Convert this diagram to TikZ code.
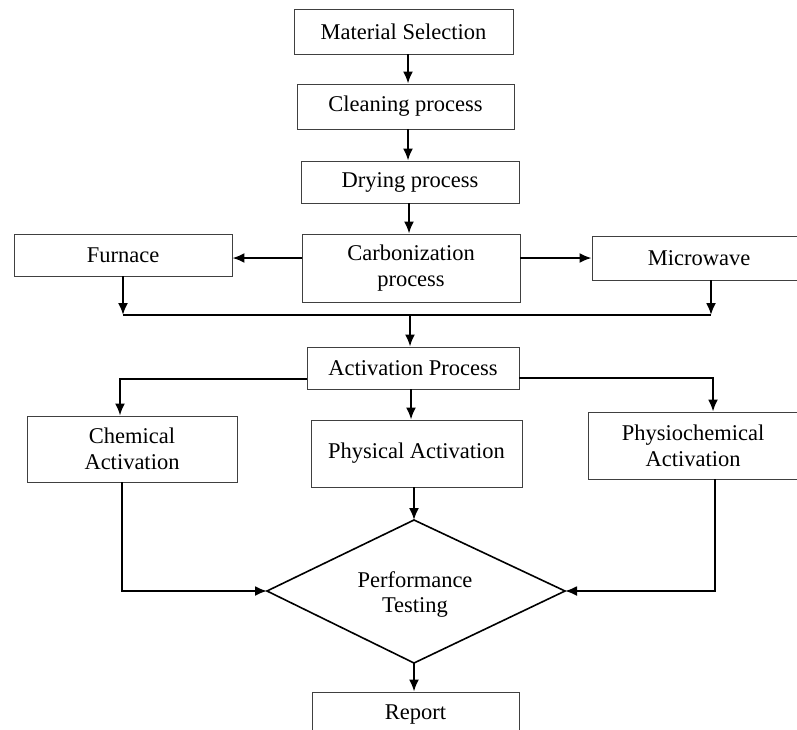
\documentclass[tikz,border=0pt]{standalone}
\usepackage{fontspec}
\setmainfont{Liberation Serif}
\usetikzlibrary{arrows.meta}
\begin{document}
\begin{tikzpicture}[x=1pt,y=-1pt,
  box/.style={draw=black!75, line width=0.9pt, rectangle, inner sep=0pt, align=center,
    font=\fontsize{22.5}{26}\selectfont},
  arr/.style={line width=2pt, -{Latex[length=12pt,width=10pt]}},
  ln/.style={line width=2pt}]
\clip (0,0) rectangle (797,729);
\fill[white] (0,0) rectangle (797,729);
% boxes
\node[box, minimum width=219pt, minimum height=45pt] (ms) at (403.5,31.5) {Material Selection};
\node[box, minimum width=217pt, minimum height=45pt] (cl) at (405.5,106.5) {Cleaning process};
\node[box, minimum width=218pt, minimum height=42pt] (dr) at (410,182) {Drying process};
\node[box, minimum width=218pt, minimum height=68pt] (ca) at (411,268) {Carbonization\\process};
\node[box, minimum width=218pt, minimum height=42pt] (fu) at (123,255) {Furnace};
\node[box, minimum width=214pt, minimum height=44pt] (mw) at (699,258) {Microwave};
\node[box, minimum width=212pt, minimum height=42pt] (ac) at (413,368) {Activation Process};
\node[box, minimum width=210pt, minimum height=66pt] (ch) at (132,449) {Chemical\\Activation};
\node[box, minimum width=211pt, minimum height=67pt] (ph) at (416.5,453.5) {Physical Activation};
\node[box, minimum width=210pt, minimum height=67pt] (pc) at (693,445.5) {Physiochemical\\Activation};
\node[box, minimum width=207pt, minimum height=45pt] (rp) at (415.5,714.5) {Report};
% diamond
\coordinate (dt) at (414,520);
\coordinate (dl) at (267,591);
\coordinate (dri) at (565,591);
\coordinate (db) at (414,663);
\draw[line width=1.6pt, line join=miter] (dt) -- (dri) -- (db) -- (dl) -- cycle;
\node[align=center, inner sep=0pt, font=\fontsize{22.5}{25}\selectfont] (pt) at (415,594) {Performance\\Testing};
% helper coordinates
\coordinate (cx) at (408,0);
\coordinate (cx2) at (409,0);
\coordinate (jl) at (123,315);
\coordinate (jr) at (711,315);
\coordinate (jm) at (410,315);
\coordinate (bl) at (120,379);
\coordinate (br) at (713,378);
\coordinate (cm) at (411,0);
\coordinate (cl2) at (122,591);
\coordinate (cr2) at (715,591);
% connectors
\draw[arr] (ms.south -| cx) -- (cl.north -| cx);
\draw[arr] (cl.south -| cx) -- (dr.north -| cx);
\draw[arr] (dr.south -| cx2) -- (ca.north -| cx2);
\draw[arr] ([yshift=10pt]ca.west) -- ([yshift=10pt]ca.west -| fu.east);
\draw[arr] ([yshift=10pt]ca.east) -- ([yshift=10pt]ca.east -| mw.west);
\draw[arr] (fu.south -| jl) -- (jl);
\draw[arr] (mw.south -| jr) -- (jr);
\draw[ln] (jl) -- (jr);
\draw[arr] (jm) -- (ac.north -| jm);
\draw[arr] ([yshift=-11pt]ac.west) -- (bl) -- (ch.north -| bl);
\draw[arr] ([yshift=-10pt]ac.east) -- (br) -- (pc.north -| br);
\draw[arr] (ac.south -| cm) -- (ph.north -| cm);
\draw[arr] (ch.south -| cl2) -- (cl2) -- (dl);
\draw[arr] (pc.south -| cr2) -- (cr2) -- (dri);
\draw[arr] (ph.south -| dt) -- (dt);
\draw[arr] (db) -- (rp.north -| db);
\end{tikzpicture}
\end{document}
